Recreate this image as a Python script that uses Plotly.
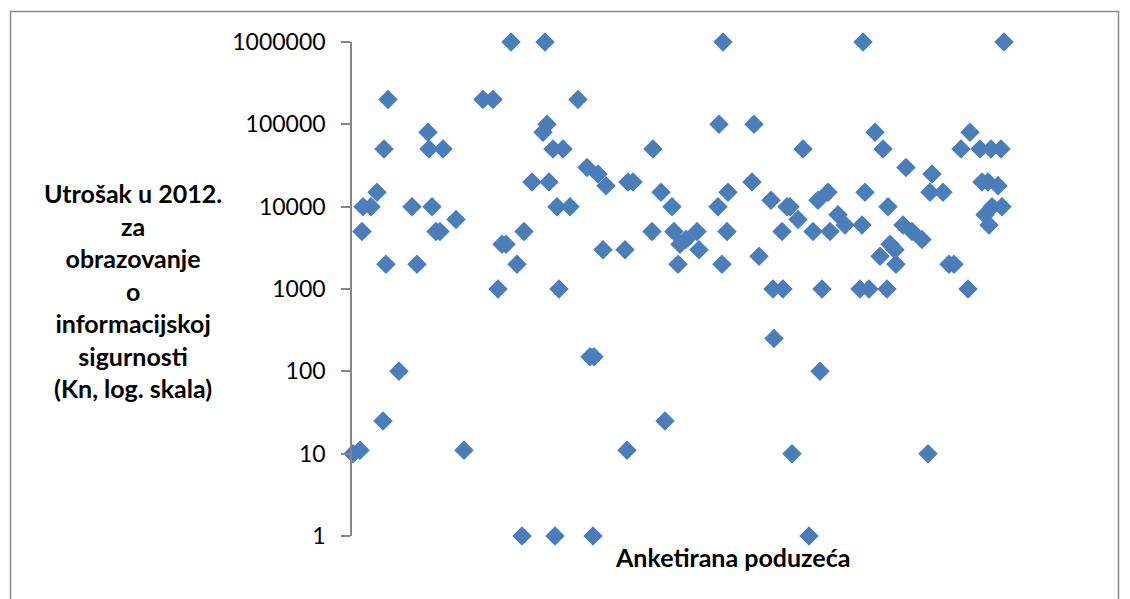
import plotly.graph_objects as go

# Position of each surveyed company along the (hidden) horizontal axis
company_pos = [1, 8, 10, 11, 19, 25, 31, 32, 34, 36, 47, 60, 65, 76, 77, 80, 84, 88, 91, 104,
               112, 131, 141, 146, 150, 154, 159, 165, 170, 172, 180, 191, 193, 195, 197, 201, 203, 205, 207, 211,
               218, 226, 235, 238, 241, 242, 246, 251, 254, 273, 275, 276, 281, 300, 301, 309, 313, 320, 322, 326,
               328, 334, 345, 347, 366, 367, 370, 371, 375, 376, 400, 402, 407, 419, 421, 422, 430, 431, 435, 438,
               440, 446, 451, 457, 461, 466, 468, 470, 476, 478, 486, 493, 508, 510, 511, 513, 517, 523, 528, 531,
               535, 536, 538, 543, 544, 551, 554, 560, 570, 576, 578, 580, 591, 597, 602, 609, 616, 618, 628, 630,
               633, 636, 637, 639, 640, 646, 649, 650, 652]

# Spending in 2012 on information security education (Kn)
spending = [10, 11, 5000, 10000, 10000, 15000, 25, 50000, 2000, 200000, 100, 10000, 2000, 80000, 50000, 10000, 5000, 5000, 50000, 7000,
            11, 200000, 200000, 1000, 3500, 3500, 1000000, 2000, 1, 5000, 20000, 80000, 1000000, 100000, 20000, 50000, 1, 10000, 1000, 50000,
            10000, 200000, 30000, 150, 1, 150, 25000, 3000, 18000, 3000, 11, 20000, 20000, 5000, 50000, 15000, 25, 10000, 5000, 2000,
            3500, 4000, 5000, 3000, 10000, 100000, 2000, 1000000, 5000, 15000, 20000, 100000, 2500, 12000, 1000, 250, 5000, 1000, 10000, 10000,
            10, 7000, 50000, 1, 5000, 12000, 100, 1000, 15000, 5000, 8000, 6000, 1000, 6000, 1000000, 15000, 1000, 80000, 2500, 50000,
            1000, 10000, 3500, 3000, 2000, 6000, 30000, 5000, 4000, 10, 15000, 25000, 15000, 2000, 2000, 50000, 1000, 80000, 50000, 20000,
            8000, 20000, 6000, 50000, 10000, 18000, 50000, 10000, 1000000]

y_tickvals = [1, 10, 100, 1000, 10000, 100000, 1000000]
y_ticktext = ["1", "10", "100", "1000", "10000", "100000", "1000000"]

y_title = "Utrošak u 2012.<br>za<br>obrazovanje<br>o<br>informacijskoj<br>sigurnosti<br>(Kn, log. skala)"
x_title = "Anketirana poduzeća"

# page has an 8px body margin, so figure coordinates = page coordinates - 8
W, H = 1122, 591
L, R, T, B = 344, 118, 34, 63
pw, ph = W - L - R, H - T - B


def px_x(p):
    return (p - L) / pw


def px_y(p):
    return (H - B - p) / ph


fig = go.Figure()
fig.add_trace(go.Scatter(
    x=company_pos, y=spending, mode="markers",
    marker=dict(symbol="diamond", size=15, color="#4A7EBB", line=dict(width=0)),
    cliponaxis=False, showlegend=False,
))

fig.update_layout(
    width=W, height=H,
    margin=dict(l=L, r=R, t=T, b=B, pad=0),
    paper_bgcolor="white", plot_bgcolor="white",
    font=dict(family="Lato", size=23, color="#000000"),
    xaxis=dict(visible=False, range=[0, 660]),
    yaxis=dict(
        type="log", range=[0, 6],
        tickvals=y_tickvals, ticktext=y_ticktext,
        ticks="outside", ticklen=9, tickwidth=1.5, tickcolor="#868686",
        showline=True, linecolor="#868686", linewidth=1.5,
        showgrid=False, zeroline=False,
        tickfont=dict(family="Lato", size=23, color="#000000"),
        ticklabelstandoff=11,
    ),
    shapes=[dict(type="rect", xref="paper", yref="paper",
                 x0=px_x(2.5), x1=px_x(1110.5), y0=px_y(620), y1=px_y(3.5),
                 line=dict(color="#868686", width=1.5), fillcolor="rgba(0,0,0,0)", layer="below")],
    annotations=[
        dict(text=y_title, xref="paper", yref="paper", x=px_x(125), y=px_y(282),
             xanchor="center", yanchor="middle", align="center", showarrow=False,
             font=dict(family="Lato", size=25, color="#000000", weight="bold")),
        dict(text=x_title, xref="paper", yref="paper", x=px_x(724), y=px_y(549),
             xanchor="center", yanchor="middle", showarrow=False,
             font=dict(family="Lato", size=25, color="#000000", weight="bold")),
    ],
)

fig.write_html("out.html")
